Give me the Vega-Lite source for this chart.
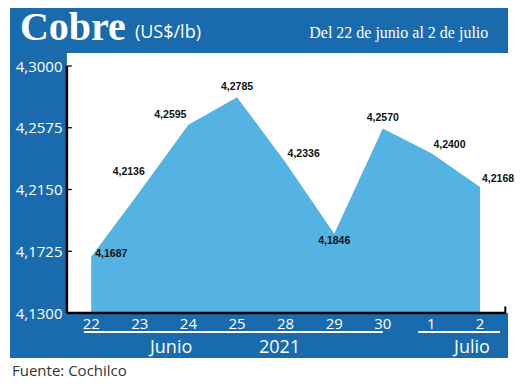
{
  "$schema": "https://vega.github.io/schema/vega-lite/v6.json",
  "width": 498,
  "height": 350,
  "autosize": {"type": "none"},
  "padding": {"left": 10, "top": 8, "right": 12, "bottom": 29},
  "background": "white",
  "title": {"text": "Fuente: Cochilco", "orient": "bottom", "anchor": "start", "font": "Open Sans", "fontSize": 15, "fontWeight": "normal", "color": "#333333", "offset": 6, "dx": 2},
  "config": {
    "view": {"fill": "#1a6aae", "stroke": null},
    "locale": {"number": {"decimal": ",", "thousands": ".", "grouping": [3], "currency": ["$", ""]}},
    "axisX": {"offset": -45, "domain": false, "ticks": false, "grid": false, "labelColor": "white", "labelFont": "Open Sans", "labelFontSize": 15, "labelPadding": 3, "labelAngle": 0},
    "axisY": {"offset": -57, "domain": false, "ticks": false, "grid": false, "labelColor": "white", "labelFont": "Open Sans", "labelFontSize": 15, "labelPadding": 5}
  },
  "datasets": {
    "cobre": [
      {"dia": "22", "precio": 4.1687},
      {"dia": "23", "precio": 4.2136},
      {"dia": "24", "precio": 4.2595},
      {"dia": "25", "precio": 4.2785},
      {"dia": "28", "precio": 4.2336},
      {"dia": "29", "precio": 4.1846},
      {"dia": "30", "precio": 4.2570},
      {"dia": "1", "precio": 4.2400},
      {"dia": "2", "precio": 4.2168}
    ],
    "marcas": [
      {"valor": 4.13}, {"valor": 4.1725}, {"valor": 4.215}, {"valor": 4.2575}, {"valor": 4.3}
    ]
  },
  "data": {"name": "cobre"},
  "layer": [
    {
      "data": {"values": [{}]},
      "mark": {"type": "rect", "fill": "white", "x2Offset": 5},
      "encoding": {
        "x": {"datum": "22", "bandPosition": 0, "type": "ordinal",
              "scale": {"type": "band", "domain": ["22","23","24","25","28","29","30","1","2"], "paddingInner": 0, "paddingOuter": 0.6235, "align": 0.939},
              "axis": {"title": null}},
        "x2": {"datum": "2", "bandPosition": 1},
        "y": {"datum": 4.13, "type": "quantitative",
              "scale": {"domain": [4.09903, 4.33992], "nice": false, "zero": false},
              "axis": {"title": null, "values": [4.13, 4.1725, 4.215, 4.2575, 4.3], "format": ".4f"}},
        "y2": {"datum": 4.30895}
      }
    },
    {
      "mark": {"type": "area", "color": "#55b3e3"},
      "encoding": {
        "x": {"field": "dia", "type": "ordinal", "bandPosition": 0.5},
        "y": {"field": "precio", "type": "quantitative"},
        "y2": {"datum": 4.13}
      }
    },
    {
      "data": {"name": "marcas"},
      "mark": {"type": "point", "shape": "M0,-0.125L1,-0.125L1,0.125L0,0.125Z", "filled": true, "color": "black", "opacity": 1, "size": 100, "strokeWidth": 0},
      "encoding": {
        "x": {"datum": "22", "bandPosition": 0, "type": "ordinal"},
        "y": {"field": "valor", "type": "quantitative"}
      }
    },
    {
      "data": {"values": [{}]},
      "mark": {"type": "rule", "color": "black", "strokeWidth": 2.5},
      "encoding": {
        "x": {"datum": "22", "bandPosition": 0, "type": "ordinal"},
        "y": {"datum": 4.13, "type": "quantitative"},
        "y2": {"datum": 4.3}
      }
    },
    {
      "data": {"values": [{}]},
      "mark": {"type": "rule", "color": "black", "strokeWidth": 2.5, "x2Offset": 1},
      "encoding": {
        "x": {"datum": "22", "bandPosition": 0, "type": "ordinal"},
        "x2": {"datum": "2", "bandPosition": 1},
        "y": {"datum": 4.13, "type": "quantitative"}
      }
    },
    {
      "data": {"values": [{}]},
      "mark": {"type": "rule", "color": "black", "strokeWidth": 2, "xOffset": 1},
      "encoding": {
        "x": {"datum": "2", "bandPosition": 1, "type": "ordinal"},
        "y": {"datum": 4.13, "type": "quantitative"},
        "y2": {"datum": 4.1345}
      }
    },
    {
      "transform": [{"filter": {"field": "dia", "oneOf": ["25", "30"]}}],
      "mark": {"type": "text", "font": "Liberation Sans", "fontWeight": "bold", "fontSize": 10.5, "color": "#111111", "align": "center", "baseline": "alphabetic", "dy": -7},
      "encoding": {
        "x": {"field": "dia", "type": "ordinal", "bandPosition": 0.5},
        "y": {"field": "precio", "type": "quantitative"},
        "text": {"field": "precio", "type": "quantitative", "format": ".4f"}
      }
    },
    {
      "transform": [{"filter": {"field": "dia", "oneOf": ["29"]}}],
      "mark": {"type": "text", "font": "Liberation Sans", "fontWeight": "bold", "fontSize": 10.5, "color": "#111111", "align": "center", "baseline": "alphabetic", "dy": 10},
      "encoding": {
        "x": {"field": "dia", "type": "ordinal", "bandPosition": 0.5},
        "y": {"field": "precio", "type": "quantitative"},
        "text": {"field": "precio", "type": "quantitative", "format": ".4f"}
      }
    },
    {
      "transform": [{"filter": {"field": "dia", "oneOf": ["28", "1", "2"]}}],
      "mark": {"type": "text", "font": "Liberation Sans", "fontWeight": "bold", "fontSize": 10.5, "color": "#111111", "align": "left", "baseline": "alphabetic", "dx": 2, "dy": -5},
      "encoding": {
        "x": {"field": "dia", "type": "ordinal", "bandPosition": 0.5},
        "y": {"field": "precio", "type": "quantitative"},
        "text": {"field": "precio", "type": "quantitative", "format": ".4f"}
      }
    },
    {
      "transform": [{"filter": {"field": "dia", "oneOf": ["22"]}}],
      "mark": {"type": "text", "font": "Liberation Sans", "fontWeight": "bold", "fontSize": 10.5, "color": "#111111", "align": "left", "baseline": "alphabetic", "dx": 4, "dy": 0},
      "encoding": {
        "x": {"field": "dia", "type": "ordinal", "bandPosition": 0.5},
        "y": {"field": "precio", "type": "quantitative"},
        "text": {"field": "precio", "type": "quantitative", "format": ".4f"}
      }
    },
    {
      "transform": [{"filter": {"field": "dia", "oneOf": ["23"]}}],
      "mark": {"type": "text", "font": "Liberation Sans", "fontWeight": "bold", "fontSize": 10.5, "color": "#111111", "align": "right", "baseline": "alphabetic", "dx": 5, "dy": -17},
      "encoding": {
        "x": {"field": "dia", "type": "ordinal", "bandPosition": 0.5},
        "y": {"field": "precio", "type": "quantitative"},
        "text": {"field": "precio", "type": "quantitative", "format": ".4f"}
      }
    },
    {
      "transform": [{"filter": {"field": "dia", "oneOf": ["24"]}}],
      "mark": {"type": "text", "font": "Liberation Sans", "fontWeight": "bold", "fontSize": 10.5, "color": "#111111", "align": "right", "baseline": "alphabetic", "dx": -2, "dy": -7},
      "encoding": {
        "x": {"field": "dia", "type": "ordinal", "bandPosition": 0.5},
        "y": {"field": "precio", "type": "quantitative"},
        "text": {"field": "precio", "type": "quantitative", "format": ".4f"}
      }
    },
    {
      "data": {"values": [{}]},
      "mark": {"type": "rule", "color": "white", "strokeWidth": 2, "yOffset": 19},
      "encoding": {
        "x": {"datum": "22", "bandPosition": 0.35, "type": "ordinal"},
        "x2": {"datum": "30", "bandPosition": 0.5},
        "y": {"datum": 4.13, "type": "quantitative"}
      }
    },
    {
      "data": {"values": [{}]},
      "mark": {"type": "rule", "color": "white", "strokeWidth": 2, "yOffset": 19},
      "encoding": {
        "x": {"datum": "1", "bandPosition": 0.23, "type": "ordinal"},
        "x2": {"datum": "2", "bandPosition": 0.91},
        "y": {"datum": 4.13, "type": "quantitative"}
      }
    },
    {
      "data": {"values": [{}]},
      "mark": {"type": "text", "text": "Junio", "font": "Open Sans", "fontSize": 18, "color": "white", "align": "center", "baseline": "alphabetic", "dx": 7, "dy": 40},
      "encoding": {
        "x": {"datum": "24", "bandPosition": 0, "type": "ordinal"},
        "y": {"datum": 4.13, "type": "quantitative"}
      }
    },
    {
      "data": {"values": [{}]},
      "mark": {"type": "text", "text": "2021", "font": "Open Sans", "fontSize": 18, "color": "white", "align": "center", "baseline": "alphabetic", "dx": -6, "dy": 40},
      "encoding": {
        "x": {"datum": "28", "bandPosition": 0.5, "type": "ordinal"},
        "y": {"datum": 4.13, "type": "quantitative"}
      }
    },
    {
      "data": {"values": [{}]},
      "mark": {"type": "text", "text": "Julio", "font": "Open Sans", "fontSize": 18, "color": "white", "align": "center", "baseline": "alphabetic", "dx": -8, "dy": 40},
      "encoding": {
        "x": {"datum": "2", "bandPosition": 0.5, "type": "ordinal"},
        "y": {"datum": 4.13, "type": "quantitative"}
      }
    },
    {
      "data": {"values": [{}]},
      "mark": {"type": "text", "text": "Cobre", "font": "Liberation Serif", "fontWeight": "bold", "fontSize": 40, "color": "white", "align": "left", "baseline": "alphabetic", "dx": -47},
      "encoding": {
        "x": {"datum": "22", "bandPosition": 0, "type": "ordinal"},
        "y": {"datum": 4.3179, "type": "quantitative"}
      }
    },
    {
      "data": {"values": [{}]},
      "mark": {"type": "text", "text": "(US$/lb)", "font": "Open Sans", "fontSize": 18, "color": "white", "align": "left", "baseline": "alphabetic", "dx": 68},
      "encoding": {
        "x": {"datum": "22", "bandPosition": 0, "type": "ordinal"},
        "y": {"datum": 4.3193, "type": "quantitative"}
      }
    },
    {
      "data": {"values": [{}]},
      "mark": {"type": "text", "text": "Del 22 de junio al 2 de julio", "font": "Liberation Serif", "fontSize": 16, "color": "white", "align": "right", "baseline": "alphabetic", "dx": -16},
      "encoding": {
        "x": {"datum": "2", "bandPosition": 1, "type": "ordinal"},
        "y": {"datum": 4.3193, "type": "quantitative"}
      }
    }
  ]
}
